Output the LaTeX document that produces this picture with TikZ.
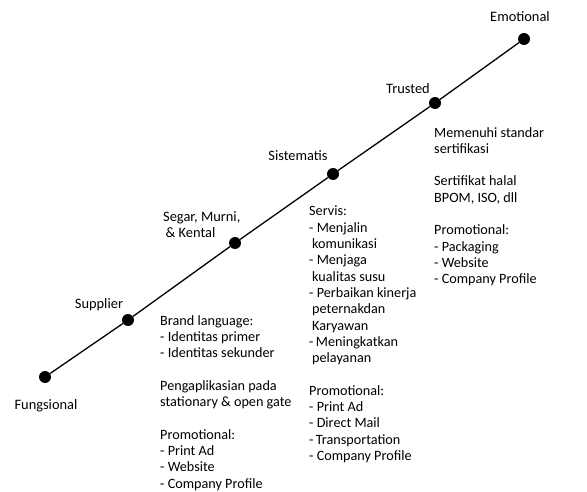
\documentclass[tikz,border=0pt]{standalone}
\usepackage{fontspec}
\setmainfont{Carlito}
\usetikzlibrary{positioning}
\tikzstyle{dot} = [circle, fill=black, inner sep=0pt, minimum size=12pt]
\tikzstyle{line} = [-, line width=1.3pt]
\tikzstyle{stage} = [anchor=base, inner sep=0pt, font=\fontsize{14.4}{16.3}\selectfont]
\tikzstyle{info} = [anchor=north west, align=left, inner sep=0pt, font=\fontsize{14.2}{16.3}\selectfont]

\begin{document}
\begin{tikzpicture}[x=1pt, y=-1pt]

    \useasboundingbox (0,0) rectangle (587,492);

    \node [dot] (fung) at (45, 377) {};
    \node [dot] (supp) at (128, 320) {};
    \node [dot] (segar) at (235, 243) {};
    \node [dot] (sist) at (333, 174) {};
    \node [dot] (trust) at (435, 103) {};
    \node [dot] (emo) at (524, 39) {};

    \draw [line] (fung) -- (supp) -- (segar) -- (sist) -- (trust) -- (emo);

    \node [stage] (fungLabel) at (46, 409) {Fungsional};
    \node [stage] (suppLabel) at (99, 308) {Supplier};
    \node [stage, anchor=north west, align=left] (segarLabel) at (163, 211) {Segar, Murni,\\\,\& Kental};
    \node [stage] (sistLabel) at (298, 161) {Sistematis};
    \node [stage] (trustLabel) at (408, 94) {Trusted};
    \node [stage] (emoLabel) at (520, 22) {Emotional};

    \node [info] (supplierInfo) at (160, 315) {Brand language:\\- Identitas primer\\- Identitas sekunder\\[16.3pt]Pengaplikasian pada\\stationary \& open gate\\[16.3pt]Promotional:\\- Print Ad\\- Website\\- Company Profile};
    \node [info] (sistInfo) at (309, 206) {Servis:\\- Menjalin\\\hspace*{3pt}komunikasi\\- Menjaga\\\hspace*{3pt}kualitas susu\\- Perbaikan kinerja\\\hspace*{3pt}peternakdan\\\hspace*{3pt}Karyawan\\-\,Meningkatkan\\\hspace*{3pt}pelayanan\\[16.3pt]Promotional:\\- Print Ad\\- Direct Mail\\-\,Transportation\\- Company Profile};
    \node [info] (trustInfo) at (434, 127) {Memenuhi standar\\sertifikasi\\[16.3pt]Sertifikat halal\\BPOM, ISO, dll\\[16.3pt]Promotional:\\- Packaging\\- Website\\- Company Profile};

\end{tikzpicture}
\end{document}
